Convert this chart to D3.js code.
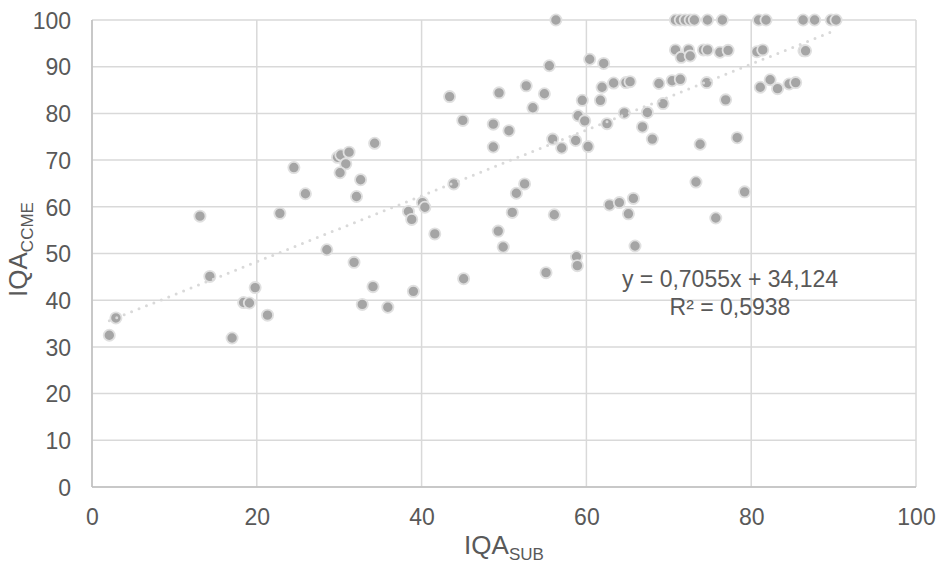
<!DOCTYPE html>
<html>
<head>
<meta charset="utf-8">
<script src="https://cdn.jsdelivr.net/npm/d3@7"></script>
<style>
  html, body { margin: 0; padding: 0; background: #fff; }
  svg { display: block; font-family: "Liberation Sans", Arial, sans-serif; }
</style>
</head>
<body>
<svg id="chart" width="937" height="563"></svg>
<script>
// IQA_SUB (x) versus IQA_CCME (y) per sampling point
const iqaSub = [
  2.1, 2.9, 13.1, 14.3, 17.0, 18.4, 19.1, 19.8, 21.3, 22.8,
  24.5, 25.9, 28.5, 29.8, 30.2, 31.2, 30.8, 30.1, 32.6, 32.1,
  31.8, 34.3, 34.1, 32.8, 35.9, 39.0, 38.4, 38.8, 40.1, 40.4,
  41.6, 43.4, 43.9, 45.0, 45.1, 48.7, 48.7, 49.4, 49.3, 49.9,
  50.6, 51.0, 51.5, 52.5, 52.7, 53.5, 54.9, 55.1, 55.5, 55.9,
  56.1, 56.3, 57.0, 58.7, 58.8, 58.9, 59.0, 59.5, 59.8, 60.2,
  60.4, 61.7, 61.9, 62.1, 62.5, 62.8, 63.3, 64.0, 64.6, 64.8,
  65.1, 65.3, 65.7, 65.9, 66.8, 67.4, 68.0, 68.8, 69.3, 70.4,
  71.4, 70.8, 71.5, 72.4, 72.6, 70.8, 71.4, 72.0, 72.6, 73.1,
  73.3, 73.8, 74.2, 74.7, 74.6, 74.7, 75.7, 76.2, 76.5, 76.9,
  77.2, 78.3, 79.2, 80.7, 80.9, 81.1, 81.4, 81.8, 82.3, 83.2,
  84.6, 85.4, 86.3, 86.4, 86.6, 87.7, 89.7, 90.3
];
const iqaCcme = [
  32.5, 36.2, 58.0, 45.1, 31.9, 39.5, 39.4, 42.7, 36.8, 58.6,
  68.4, 62.8, 50.8, 70.6, 71.1, 71.7, 69.2, 67.3, 65.8, 62.2,
  48.1, 73.6, 42.9, 39.1, 38.5, 41.9, 59.0, 57.3, 60.9, 59.9,
  54.2, 83.6, 64.9, 78.5, 44.6, 77.7, 72.8, 84.4, 54.8, 51.4,
  76.3, 58.8, 62.9, 64.9, 85.9, 81.2, 84.2, 45.9, 90.2, 74.5,
  58.3, 100, 72.6, 74.2, 49.3, 47.4, 79.5, 82.8, 78.4, 72.9,
  91.6, 82.8, 85.6, 90.7, 77.8, 60.4, 86.5, 60.9, 80.1, 86.6,
  58.5, 86.8, 61.8, 51.6, 77.1, 80.2, 74.5, 86.4, 82.1, 87.0,
  87.3, 93.6, 92.0, 93.6, 92.3, 100, 100, 100, 100, 100,
  65.3, 73.4, 93.6, 93.6, 86.6, 100, 57.6, 93.1, 100, 82.9,
  93.5, 74.8, 63.2, 93.2, 100, 85.6, 93.6, 100, 87.2, 85.3,
  86.3, 86.6, 100, 93.4, 93.4, 100, 100, 100
];

// Linear trend line as reported on the chart
const trendSlope = 0.7055;
const trendIntercept = 34.124;
const trendLabels = ["y = 0,7055x + 34,124", "R² = 0,5938"];

const xTicks = [0, 20, 40, 60, 80, 100];
const yTicks = [0, 10, 20, 30, 40, 50, 60, 70, 80, 90, 100];

const points = iqaSub.map((x, i) => ({ x, y: iqaCcme[i] }));

const margin = { left: 92, right: 21, top: 20, bottom: 76 };
const width = 937, height = 563;
const svg = d3.select("#chart");

const x = d3.scaleLinear().domain([0, 100]).range([margin.left, width - margin.right]);
const y = d3.scaleLinear().domain([0, 100]).range([height - margin.bottom, margin.top]);

const gridColor = "#d9d9d9";
const textColor = "#595959";

// Gridlines
svg.append("g")
  .selectAll("line.h")
  .data(yTicks)
  .join("line")
  .attr("x1", x(0)).attr("x2", x(100))
  .attr("y1", d => y(d)).attr("y2", d => y(d))
  .attr("stroke", gridColor).attr("stroke-width", 1.5);

svg.append("g")
  .selectAll("line.v")
  .data(xTicks)
  .join("line")
  .attr("x1", d => x(d)).attr("x2", d => x(d))
  .attr("y1", y(0)).attr("y2", y(100))
  .attr("stroke", gridColor).attr("stroke-width", 1.5);

// Axis lines
svg.append("line")
  .attr("x1", x(0)).attr("x2", x(0)).attr("y1", y(0)).attr("y2", y(100))
  .attr("stroke", "#bfbfbf").attr("stroke-width", 1.5);
svg.append("line")
  .attr("x1", x(0)).attr("x2", x(100)).attr("y1", y(0)).attr("y2", y(0))
  .attr("stroke", "#bfbfbf").attr("stroke-width", 1.5);

// Tick labels via d3 axes
const xAxis = svg.append("g")
  .attr("transform", `translate(0,${y(0)})`)
  .call(d3.axisBottom(x).tickValues(xTicks).tickSize(0).tickPadding(21).tickFormat(d3.format("d")));
const yAxis = svg.append("g")
  .attr("transform", `translate(${x(0)},0)`)
  .call(d3.axisLeft(y).tickValues(yTicks).tickSize(0).tickPadding(21).tickFormat(d3.format("d")));
[xAxis, yAxis].forEach(g => {
  g.select(".domain").remove();
  g.selectAll("text")
    .attr("fill", textColor)
    .style("font-size", "23px")
    .style("font-family", "'Liberation Sans', Arial, sans-serif");
});
yAxis.selectAll("text").attr("dy", "0.36em");
xAxis.selectAll("text").attr("dy", "0.72em");

// Data points
svg.append("g")
  .selectAll("circle")
  .data(points)
  .join("circle")
  .attr("cx", d => x(d.x))
  .attr("cy", d => y(d.y))
  .attr("r", 5.6)
  .attr("fill", "#a5a5a5")
  .attr("stroke", "#e0e0e0")
  .attr("stroke-width", 1.8);

// Dotted trend line across the data range
const xMin = d3.min(iqaSub), xMax = d3.max(iqaSub);
svg.append("line")
  .attr("x1", x(xMin)).attr("y1", y(trendSlope * xMin + trendIntercept))
  .attr("x2", x(xMax)).attr("y2", y(trendSlope * xMax + trendIntercept))
  .attr("stroke", "#d9d9d9")
  .attr("stroke-width", 3)
  .attr("stroke-linecap", "round")
  .attr("stroke-dasharray", "0 8");

// Trend equation
const eq = svg.append("text")
  .attr("x", 730).attr("y", 287)
  .attr("text-anchor", "middle")
  .attr("fill", textColor)
  .style("font-size", "23px");
eq.selectAll("tspan")
  .data(trendLabels)
  .join("tspan")
  .attr("x", 730)
  .attr("dy", (d, i) => i === 0 ? 0 : 28)
  .text(d => d);

// Axis titles with subscripts
const xt = svg.append("text")
  .attr("x", x(50)).attr("y", 554)
  .attr("text-anchor", "middle")
  .attr("fill", textColor)
  .style("font-size", "26px");
xt.append("tspan").text("IQA");
xt.append("tspan").attr("dy", 6).style("font-size", "17px").text("SUB");

const yt = svg.append("text")
  .attr("transform", `translate(27,${(y(0) + y(100)) / 2 - 4}) rotate(-90)`)
  .attr("text-anchor", "middle")
  .attr("fill", textColor)
  .style("font-size", "26px");
yt.append("tspan").text("IQA");
yt.append("tspan").attr("dy", 6).style("font-size", "17px").text("CCME");
</script>
</body>
</html>
